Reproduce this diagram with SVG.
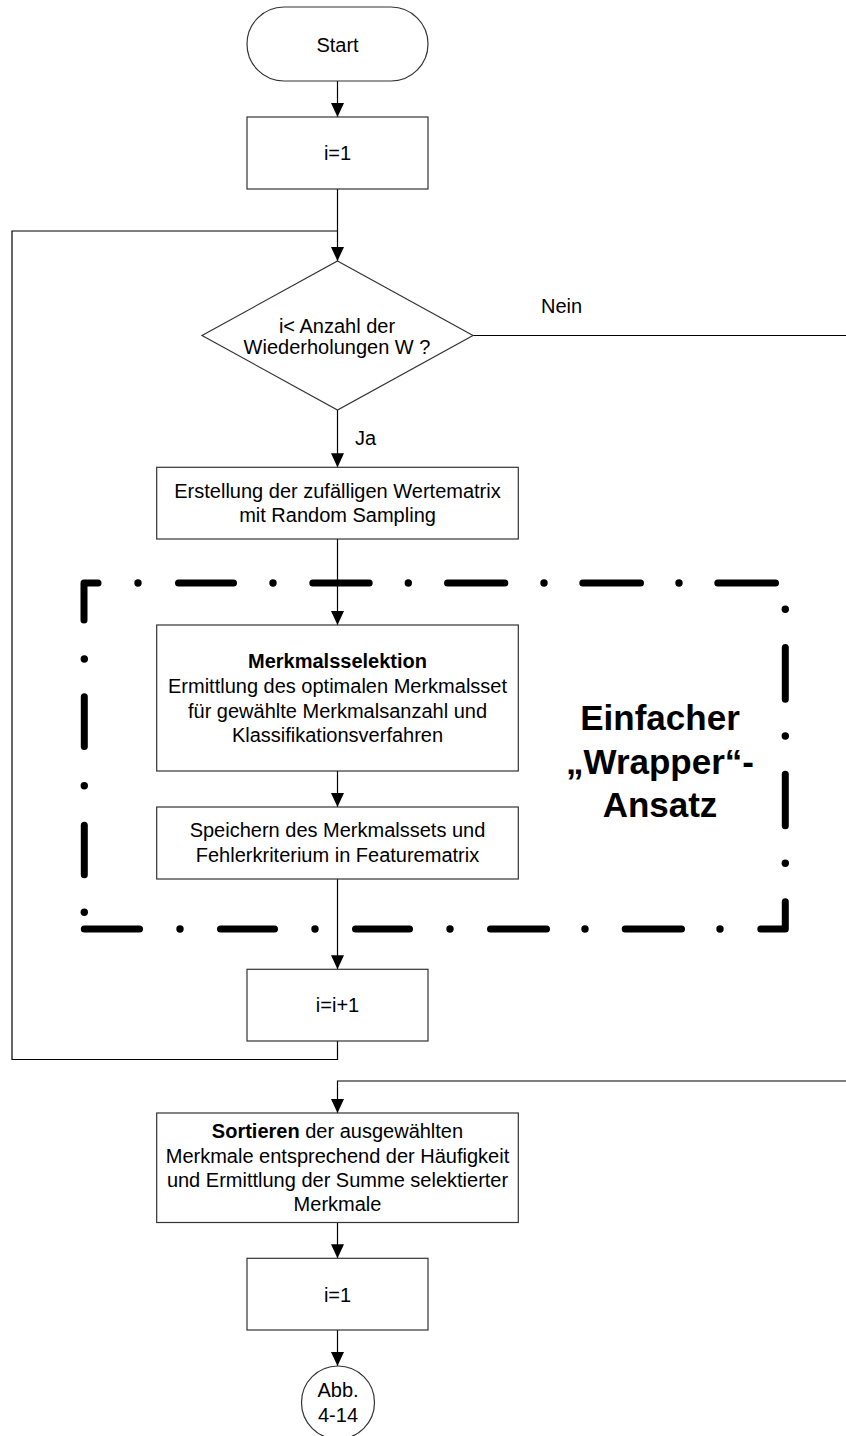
<svg xmlns="http://www.w3.org/2000/svg" width="846" height="1436" viewBox="0 0 846 1436">
  <style>
    .box { fill: #fff; stroke: #333; stroke-width: 1.2; }
    .txt { font-family: "Liberation Sans", Arial, Helvetica, sans-serif; font-size: 20px; fill: #000; text-anchor: middle; }
    .lbl { font-family: "Liberation Sans", Arial, Helvetica, sans-serif; font-size: 20px; fill: #000; }
    .b { font-weight: bold; }
    .big { font-family: "Liberation Sans", Arial, Helvetica, sans-serif; font-size: 35px; font-weight: bold; fill: #000; text-anchor: middle; }
    .conn { fill: none; stroke: #000; stroke-width: 1.2; }
    .dd { fill: none; stroke: #000; stroke-width: 7; stroke-linecap: round; stroke-linejoin: round; }
    .dot { fill: #000; }
  </style>
  <defs>
    <marker id="arrow" markerUnits="userSpaceOnUse" markerWidth="14" markerHeight="14" viewBox="0 0 14 13" refX="14" refY="6.5" orient="auto">
      <path d="M0,0 L14,6.5 L0,13 Z" fill="#000"/>
    </marker>
  </defs>
  <rect width="846" height="1436" fill="#fff"/>

  <!-- dash-dot frame around the wrapper part -->
  <g id="wrapper-frame">
    <path class="dd" d="M84,620 V583 H98"/>
    <circle class="dot" cx="138" cy="583" r="3.7"/>
    <path class="dd" d="M178.5,583 H233.5"/>
    <circle class="dot" cx="273" cy="583" r="3.7"/>
    <path class="dd" d="M312.8,583 H369.2"/>
    <circle class="dot" cx="408.3" cy="583" r="3.7"/>
    <path class="dd" d="M447.5,583 H504.8"/>
    <circle class="dot" cx="544" cy="583" r="3.7"/>
    <path class="dd" d="M582.8,583 H640.5"/>
    <circle class="dot" cx="679" cy="583" r="3.7"/>
    <path class="dd" d="M717.8,583 H775.5"/>

    <circle class="dot" cx="785.3" cy="609.3" r="3.7"/>
    <path class="dd" d="M785.3,647.5 V699.2"/>
    <circle class="dot" cx="785.3" cy="736" r="3.7"/>
    <path class="dd" d="M785.3,774.2 V825.8"/>
    <circle class="dot" cx="785.3" cy="863.3" r="3.7"/>
    <path class="dd" d="M785.3,901.8 V929 H760.8"/>

    <circle class="dot" cx="720" cy="929" r="3.7"/>
    <path class="dd" d="M625.2,929 H681.5"/>
    <circle class="dot" cx="585" cy="929" r="3.7"/>
    <path class="dd" d="M490.5,929 H546.5"/>
    <circle class="dot" cx="450" cy="929" r="3.7"/>
    <path class="dd" d="M355.5,929 H409.5"/>
    <circle class="dot" cx="315" cy="929" r="3.7"/>
    <path class="dd" d="M220.5,929 H274.5"/>
    <circle class="dot" cx="180" cy="929" r="3.7"/>
    <path class="dd" d="M84.3,929 H139.5"/>

    <circle class="dot" cx="84.3" cy="912.3" r="3.7"/>
    <path class="dd" d="M84.3,825.2 V874.8"/>
    <circle class="dot" cx="84.3" cy="785.7" r="3.7"/>
    <path class="dd" d="M84.3,696.8 V746.5"/>
    <circle class="dot" cx="84.3" cy="659" r="3.7"/>

    <text class="big" x="660" y="730">Einfacher</text>
    <text class="big" x="660" y="774">„Wrapper“-</text>
    <text class="big" x="660" y="817">Ansatz</text>
  </g>

  <!-- connectors -->
  <g id="connectors">
    <path class="conn" d="M337.5,81 V117" marker-end="url(#arrow)"/>
    <path class="conn" d="M337.5,189 V261" marker-end="url(#arrow)"/>
    <path class="conn" d="M337.5,410 V467.3" marker-end="url(#arrow)"/>
    <path class="conn" d="M337.5,539 V625" marker-end="url(#arrow)"/>
    <path class="conn" d="M337.5,771 V807" marker-end="url(#arrow)"/>
    <path class="conn" d="M337.5,879 V969.3" marker-end="url(#arrow)"/>
    <!-- loop back to the decision -->
    <path class="conn" d="M337.5,1041 V1059.5 H12 V231 H337.5"/>
    <!-- "Nein" exit and re-entry -->
    <path class="conn" d="M473,335.5 H846"/>
    <path class="conn" d="M846,1081 H337.5 V1113" marker-end="url(#arrow)"/>
    <path class="conn" d="M337.5,1222.5 V1258.3" marker-end="url(#arrow)"/>
    <path class="conn" d="M337.5,1330 V1366" marker-end="url(#arrow)"/>
    <text class="lbl" x="541" y="313">Nein</text>
    <text class="lbl" x="355" y="445">Ja</text>
  </g>

  <g id="start">
    <rect class="box" x="247" y="7" width="181" height="74" rx="37" ry="37"/>
    <text class="txt" x="337.5" y="51.5">Start</text>
  </g>

  <g id="init">
    <rect class="box" x="247" y="117" width="181" height="72"/>
    <text class="txt" x="337.5" y="159.5">i=1</text>
  </g>

  <g id="decision">
    <polygon class="box" points="337.5,261 473,335.5 337.5,410 202,335.5"/>
    <text class="txt" x="337" y="332.5">i&lt; Anzahl der</text>
    <text class="txt" x="337" y="354">Wiederholungen W ?</text>
  </g>

  <g id="sampling">
    <rect class="box" x="156.7" y="467.3" width="361.6" height="71.7"/>
    <text class="txt" x="337.5" y="497.5">Erstellung der zufälligen Wertematrix</text>
    <text class="txt" x="337.5" y="522">mit Random Sampling</text>
  </g>

  <g id="selection">
    <rect class="box" x="156.7" y="625" width="361.6" height="146"/>
    <text class="txt b" x="337.5" y="668">Merkmalsselektion</text>
    <text class="txt" x="337.5" y="693">Ermittlung des optimalen Merkmalsset</text>
    <text class="txt" x="337.5" y="717.5">für gewählte Merkmalsanzahl und</text>
    <text class="txt" x="337.5" y="741.5">Klassifikationsverfahren</text>
  </g>

  <g id="store">
    <rect class="box" x="156.7" y="807" width="361.6" height="72"/>
    <text class="txt" x="337.5" y="837.3">Speichern des Merkmalssets und</text>
    <text class="txt" x="337.5" y="861.7">Fehlerkriterium in Featurematrix</text>
  </g>

  <g id="increment">
    <rect class="box" x="247" y="969.3" width="181" height="71.7"/>
    <text class="txt" x="337.5" y="1012">i=i+1</text>
  </g>

  <g id="sort">
    <rect class="box" x="156.7" y="1113" width="361.6" height="109.5"/>
    <text class="txt" x="337.5" y="1138.3"><tspan class="b">Sortieren</tspan> der ausgewählten</text>
    <text class="txt" x="337.5" y="1163">Merkmale entsprechend der Häufigkeit</text>
    <text class="txt" x="337.5" y="1186.7">und Ermittlung der Summe selektierter</text>
    <text class="txt" x="337.5" y="1210.7">Merkmale</text>
  </g>

  <g id="reset">
    <rect class="box" x="247" y="1258.3" width="181" height="71.7"/>
    <text class="txt" x="337.5" y="1302">i=1</text>
  </g>

  <g id="ref">
    <circle class="box" cx="338" cy="1402.5" r="36.5"/>
    <text class="txt" x="338" y="1396.5">Abb.</text>
    <text class="txt" x="338" y="1421.5">4-14</text>
  </g>
</svg>
